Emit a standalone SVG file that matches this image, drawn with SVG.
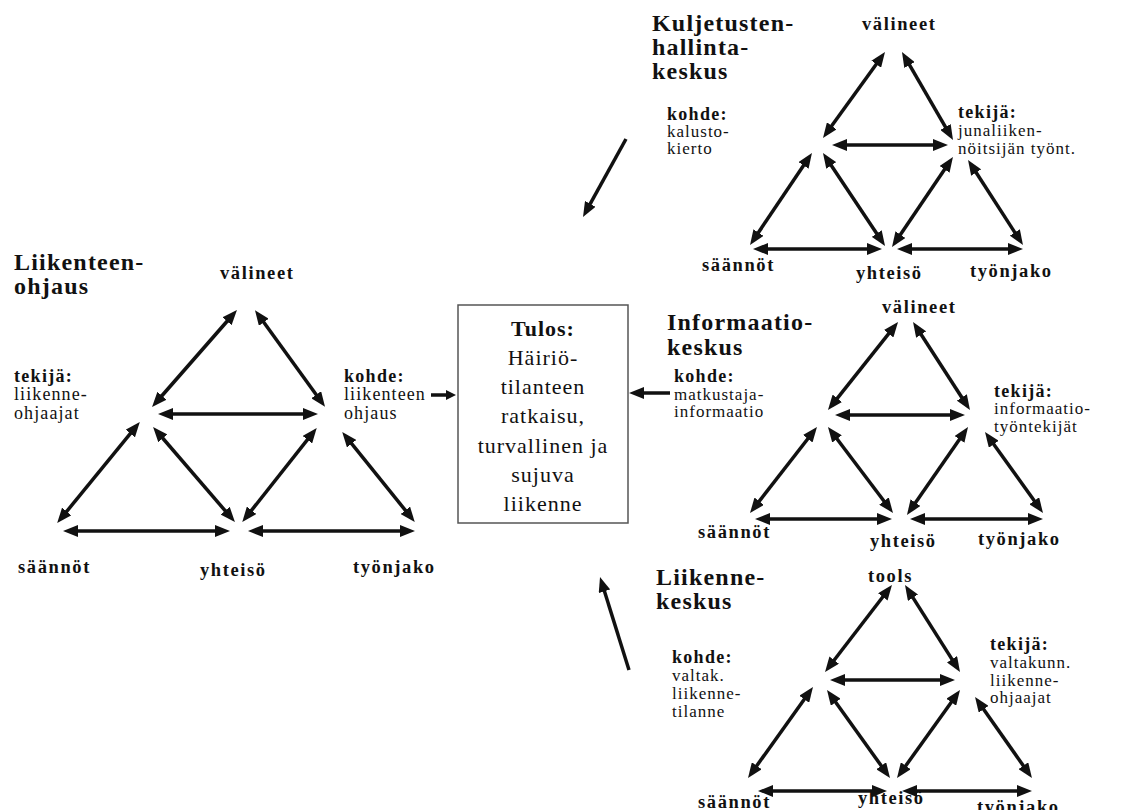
<svg xmlns="http://www.w3.org/2000/svg" width="1121" height="810" viewBox="0 0 1121 810">
  <style>
    text { font-family: "Liberation Serif", "Times New Roman", serif; fill: #111; }
    .title { font-size: 24px; font-weight: bold; letter-spacing: 1.2px; }
    .lab { font-size: 18.5px; font-weight: bold; letter-spacing: 1.6px; }
    .hd { font-size: 18px; font-weight: bold; letter-spacing: 1.3px; }
    .body { font-size: 18px; letter-spacing: 1.1px; }
    .body2 { font-size: 17px; letter-spacing: 1px; }
    .bx { font-size: 22px; letter-spacing: 1px; text-anchor: middle; }
    .bxh { font-size: 22px; font-weight: bold; letter-spacing: 1px; text-anchor: middle; }
    .conn line { stroke: #111; stroke-width: 3.5; fill: none; }
    .dbl { marker-start: url(#ah); marker-end: url(#ah); }
    .sgl { marker-end: url(#ah); }
    .sml { marker-end: url(#ahs); }
  </style>
  <defs>
    <marker id="ah" viewBox="0 0 15 12" refX="9" refY="6" markerWidth="15" markerHeight="12" markerUnits="userSpaceOnUse" orient="auto-start-reverse">
      <path d="M0,0 L15,6 L0,12 z" fill="#111"/>
    </marker>
    <marker id="ahs" viewBox="0 0 10 10" refX="5" refY="5" markerWidth="10" markerHeight="10" markerUnits="userSpaceOnUse" orient="auto">
      <path d="M0,0 L10,5 L0,10 z" fill="#111"/>
    </marker>
  </defs>
  <rect width="1121" height="810" fill="#fff"/>

  <!-- Liikenteenohjaus (left system) -->
  <g id="liikenteenohjaus">
    <text class="title" x="14" y="270">Liikenteen-</text>
    <text class="title" x="14" y="294">ohjaus</text>
    <text class="lab" x="220" y="279">välineet</text>
    <text class="hd" x="14" y="382">tekijä:</text>
    <text class="body" x="14" y="400">liikenne-</text>
    <text class="body" x="14" y="419">ohjaajat</text>
    <text class="hd" x="344" y="382">kohde:</text>
    <text class="body" x="344" y="400">liikenteen</text>
    <text class="body" x="344" y="419">ohjaus</text>
    <text class="lab" x="18" y="573">säännöt</text>
    <text class="lab" x="200" y="576">yhteisö</text>
    <text class="lab" x="353" y="573">työnjako</text>
  </g>

  <!-- Result box -->
  <g id="tulos">
    <rect x="458" y="305" width="170" height="218" fill="#fff" stroke="#555" stroke-width="1.5"/>
    <text class="bxh" x="543" y="336">Tulos:</text>
    <text class="bx" x="543" y="365">Häiriö-</text>
    <text class="bx" x="543" y="394">tilanteen</text>
    <text class="bx" x="543" y="423">ratkaisu,</text>
    <text class="bx" x="543" y="453">turvallinen ja</text>
    <text class="bx" x="543" y="482">sujuva</text>
    <text class="bx" x="543" y="511">liikenne</text>
  </g>

  <!-- Kuljetustenhallintakeskus (top right) -->
  <g id="kuljetustenhallintakeskus">
    <text class="title" x="652" y="31">Kuljetusten-</text>
    <text class="title" x="652" y="55">hallinta-</text>
    <text class="title" x="652" y="79">keskus</text>
    <text class="lab" x="862" y="30">välineet</text>
    <text class="hd" x="667" y="120">kohde:</text>
    <text class="body2" x="667" y="137">kalusto-</text>
    <text class="body2" x="667" y="154">kierto</text>
    <text class="hd" x="958" y="118">tekijä:</text>
    <text class="body2" x="958" y="136">junaliiken-</text>
    <text class="body2" x="958" y="154">nöitsijän työnt.</text>
    <text class="lab" x="702" y="271">säännöt</text>
    <text class="lab" x="856" y="279">yhteisö</text>
    <text class="lab" x="970" y="277">työnjako</text>
  </g>

  <!-- Informaatiokeskus (middle right) -->
  <g id="informaatiokeskus">
    <text class="title" x="667" y="330">Informaatio-</text>
    <text class="title" x="667" y="355">keskus</text>
    <text class="lab" x="882" y="313">välineet</text>
    <text class="hd" x="674" y="382">kohde:</text>
    <text class="body2" x="674" y="400">matkustaja-</text>
    <text class="body2" x="674" y="417">informaatio</text>
    <text class="hd" x="994" y="397">tekijä:</text>
    <text class="body2" x="994" y="414">informaatio-</text>
    <text class="body2" x="994" y="432">työntekijät</text>
    <text class="lab" x="698" y="538">säännöt</text>
    <text class="lab" x="870" y="547">yhteisö</text>
    <text class="lab" x="978" y="545">työnjako</text>
  </g>

  <!-- Liikennekeskus (bottom right) -->
  <g id="liikennekeskus">
    <text class="title" x="656" y="585">Liikenne-</text>
    <text class="title" x="656" y="609">keskus</text>
    <text class="lab" x="868" y="582">tools</text>
    <text class="hd" x="672" y="663">kohde:</text>
    <text class="body2" x="672" y="681">valtak.</text>
    <text class="body2" x="672" y="699">liikenne-</text>
    <text class="body2" x="672" y="717">tilanne</text>
    <text class="hd" x="990" y="650">tekijä:</text>
    <text class="body2" x="990" y="668">valtakunn.</text>
    <text class="body2" x="990" y="686">liikenne-</text>
    <text class="body2" x="990" y="703">ohjaajat</text>
    <text class="lab" x="698" y="808">säännöt</text>
    <text class="lab" x="858" y="804">yhteisö</text>
    <text class="lab" x="977" y="813">työnjako</text>
  </g>

  <!-- Connectors -->
  <g id="connectors" class="conn">
    <!-- left triangle -->
    <line class="dbl" x1="233" y1="314.5" x2="156" y2="402.5"/>
    <line class="dbl" x1="258.5" y1="315" x2="321.5" y2="402"/>
    <line class="dbl" x1="164" y1="414" x2="312" y2="414"/>
    <line class="dbl" x1="136" y1="426.6" x2="61" y2="518.4"/>
    <line class="dbl" x1="157" y1="431.5" x2="231" y2="517.5"/>
    <line class="dbl" x1="313" y1="432.7" x2="246" y2="517.3"/>
    <line class="dbl" x1="346" y1="436.7" x2="411" y2="517.3"/>
    <line class="dbl" x1="69" y1="531" x2="224" y2="531"/>
    <line class="dbl" x1="254" y1="531" x2="409" y2="531"/>

    <!-- top right triangle -->
    <line class="dbl" x1="881.5" y1="56.9" x2="826.5" y2="133.1"/>
    <line class="dbl" x1="905" y1="57.2" x2="950" y2="134.8"/>
    <line class="dbl" x1="838" y1="145" x2="942" y2="145"/>
    <line class="dbl" x1="808.6" y1="158" x2="753.4" y2="240"/>
    <line class="dbl" x1="826.3" y1="158" x2="881.7" y2="241"/>
    <line class="dbl" x1="949.6" y1="162" x2="895.4" y2="242"/>
    <line class="dbl" x1="971.3" y1="165" x2="1019.7" y2="240"/>
    <line class="dbl" x1="759" y1="249" x2="876" y2="249"/>
    <line class="dbl" x1="903" y1="249" x2="1017" y2="249"/>

    <!-- middle right triangle -->
    <line class="dbl" x1="894.3" y1="326.7" x2="831.7" y2="405.3"/>
    <line class="dbl" x1="916.3" y1="327" x2="966.7" y2="405"/>
    <line class="dbl" x1="841" y1="415" x2="959" y2="415"/>
    <line class="dbl" x1="813.3" y1="431.7" x2="753.7" y2="508.3"/>
    <line class="dbl" x1="831.6" y1="431.8" x2="889.4" y2="508.2"/>
    <line class="dbl" x1="964.6" y1="432" x2="910.4" y2="510"/>
    <line class="dbl" x1="988.5" y1="436.9" x2="1039.5" y2="508.1"/>
    <line class="dbl" x1="761" y1="519" x2="886" y2="519"/>
    <line class="dbl" x1="916" y1="519" x2="1037" y2="519"/>

    <!-- bottom right triangle -->
    <line class="dbl" x1="888.3" y1="589.8" x2="828.7" y2="667.2"/>
    <line class="dbl" x1="908.2" y1="590.1" x2="956.8" y2="666.9"/>
    <line class="dbl" x1="836" y1="680" x2="949" y2="680"/>
    <line class="dbl" x1="809.5" y1="691.9" x2="751.5" y2="773.1"/>
    <line class="dbl" x1="830.5" y1="694.9" x2="886.5" y2="773.1"/>
    <line class="dbl" x1="956.5" y1="694.9" x2="900.5" y2="773.1"/>
    <line class="dbl" x1="978.5" y1="701.9" x2="1028.5" y2="773.1"/>
    <line class="dbl" x1="764" y1="791" x2="881" y2="791"/>
    <line class="dbl" x1="908" y1="791" x2="1026" y2="791"/>

    <!-- flows towards the result -->
    <line class="sgl" x1="626" y1="139" x2="585.9" y2="211.7"/>
    <line class="sgl" x1="629" y1="670" x2="601.8" y2="582.7"/>
    <line class="sml" x1="431" y1="395" x2="451" y2="395"/>
    <line class="sgl" x1="670" y1="393" x2="635" y2="393"/>
  </g>
</svg>
